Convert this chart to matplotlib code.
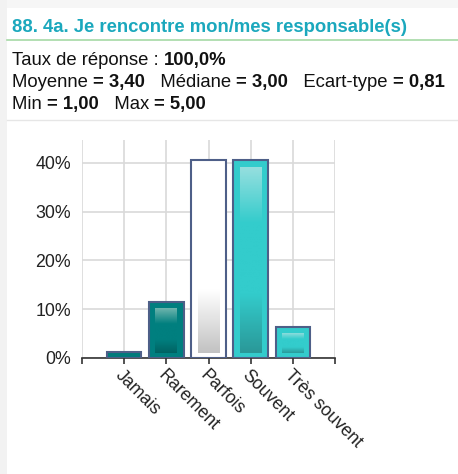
import numpy as np
import matplotlib
matplotlib.use('Agg')
import matplotlib.pyplot as plt
from matplotlib.colors import LinearSegmentedColormap
from matplotlib.patches import Rectangle

plt.rcParams['font.family'] = ['Liberation Sans', 'DejaVu Sans']

categories = ['Jamais', 'Rarement', 'Parfois', 'Souvent', 'Très souvent']
percent = [1.2, 11.5, 40.5, 40.5, 6.4]
yticks = [0, 10, 20, 30, 40]

title = '88. 4a. Je rencontre mon/mes responsable(s)'
stat_lines = [
    [('Taux de réponse : ', 'normal'), ('100,0%', 'bold')],
    [('Moyenne ', 'normal'), ('= 3,40', 'bold'), ('   Médiane ', 'normal'),
     ('= 3,00', 'bold'), ('   Ecart-type ', 'normal'), ('= 0,81', 'bold')],
    [('Min ', 'normal'), ('= 1,00', 'bold'), ('   Max ', 'normal'), ('= 5,00', 'bold')],
]

# bar colour, gradient stops (top -> bottom) for the inner panel
bar_colors = ['#007b7b', '#007f7f', '#ffffff', '#33cccc', '#33cccc']
inner_stops = [
    None,
    [(0, '#6fb5ae'), (0.35, '#007f7f'), (0.7, '#007f7f'), (1, '#006262')],
    [(0, '#ffffff'), (0.66, '#ffffff'), (1, '#c2c2c2')],
    [(0, '#96dfdf'), (0.3, '#33cccc'), (0.68, '#33cccc'), (1, '#2a9898')],
    [(0, '#8ddcdc'), (0.3, '#33cccc'), (0.7, '#33cccc'), (1, '#2a9a9a')],
]
edge = '#4e5f88'

W, H = 458, 474
fig = plt.figure(figsize=(W / 100, H / 100), dpi=100)
fig.patch.set_facecolor('white')

# page decorations
fig.patches.append(Rectangle((0, 0), 7 / W, 1, transform=fig.transFigure,
                             facecolor='#f2f2f2', edgecolor='none', zorder=0))
fig.patches.append(Rectangle((7 / W, 1 - 8 / H), 1, 8 / H, transform=fig.transFigure,
                             facecolor='#f6f6f6', edgecolor='none', zorder=0))
fig.lines.append(plt.Line2D([7 / W, 1], [1 - 40 / H, 1 - 40 / H], transform=fig.transFigure,
                            color='#a6d9a6', lw=1.2))
fig.lines.append(plt.Line2D([7 / W, 1], [1 - 120 / H, 1 - 120 / H], transform=fig.transFigure,
                            color='#e6e6e6', lw=1))

fig.text(12 / W, 1 - 32 / H, title, fontsize=13.3, fontweight='bold', color='#1ba8bd',
         va='baseline', ha='left')

renderer = fig.canvas.get_renderer()
baselines = [65, 87, 109]
for line, yb in zip(stat_lines, baselines):
    x = 12
    for txt, w in line:
        t = fig.text(x / W, 1 - yb / H, txt, fontsize=13.3, fontweight=w, color='#111111',
                     va='baseline', ha='left')
        x = t.get_window_extent(renderer).x1

ax = fig.add_axes([82 / W, 1 - 358 / H, 253 / W, 218 / H])
x = np.arange(len(categories))
bw = 0.82
bars = ax.bar(x, percent, width=bw, color=bar_colors, edgecolor=edge, linewidth=1.5, zorder=3)

# inner gradient panels
for xi, p, stops in zip(x, percent, inner_stops):
    if stops is None or p < 3:
        continue
    cmap = LinearSegmentedColormap.from_list('g', stops)
    grad = np.linspace(0, 1, 256).reshape(-1, 1)
    top = p - 1.4
    bot = 1.0
    ax.imshow(grad, cmap=cmap, aspect='auto', zorder=4,
              extent=(xi - bw / 2 + 0.15, xi + bw / 2 - 0.15, bot, top))

ax.set_xlim(-1, 5)
ax.set_ylim(0, 44.7)
ax.set_xticks(np.arange(-1, 6))
ax.set_xticklabels([''] + categories + [''], rotation=-45, ha='left', va='top',
                   rotation_mode='anchor', fontsize=12.8, color='#222222')
ax.set_yticks(yticks)
ax.set_yticklabels([f'{v}%' for v in yticks], fontsize=12.8, color='#222222')
ax.grid(True, color='#d9d9d9', lw=1.2, zorder=0)
ax.set_axisbelow(True)
for s in ['top', 'right', 'left']:
    ax.spines[s].set_visible(False)
ax.spines['bottom'].set_color('#333333')
ax.spines['bottom'].set_linewidth(1.2)
ax.tick_params(axis='y', length=0, pad=8)
ax.tick_params(axis='x', length=4, width=1.2, color='#333333', pad=2, direction='out')

fig.savefig('out.png', dpi=100)
